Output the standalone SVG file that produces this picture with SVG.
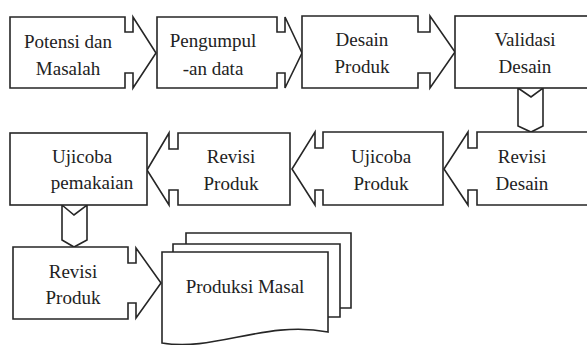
<svg xmlns="http://www.w3.org/2000/svg" width="587" height="345" viewBox="0 0 587 345">
<style>
.s{fill:#fff;stroke:#262626;stroke-width:1.6;stroke-linejoin:miter}
text{font-size:19px;fill:#222;text-anchor:middle}
</style>
<rect x="0" y="0" width="587" height="345" fill="#fff"/>
<g id="connectors">
<path class="s" d="M518,88 L531,97 L543,88 V126 L531,132 L518,126 Z"/>
<path class="s" d="M62,205 L74,215 L87,205 V240 L74,247 L62,240 Z"/>
</g>
<g font-family="Liberation Serif, serif">
<g id="n1">
<path class="s" d="M10,17 H125 V32 H133 V17 L156,53 L133,88 V73 H125 V88 H10 Z"/>
<text x="68" y="48">Potensi dan</text>
<text x="68" y="75">Masalah</text>
</g>
<g id="n2">
<path class="s" d="M157,17 H277 V32 H285 V17 L302,53 L285,88 V73 H277 V88 H157 Z"/>
<text x="213" y="47">Pengumpul</text>
<text x="213" y="75">-an data</text>
</g>
<g id="n3">
<path class="s" d="M302,16 H418 V32 H430 V16 L455,52 L430,88 V73 H418 V88 H302 Z"/>
<text x="362" y="46">Desain</text>
<text x="362" y="73">Produk</text>
</g>
<g id="n4">
<rect class="s" x="455" y="16" width="150" height="72"/>
<text x="525" y="46">Validasi</text>
<text x="525" y="73">Desain</text>
</g>
<g id="n5">
<path class="s" d="M605,132 H477 V148 H468 V132 L444,169 L468,205 V190 H477 V205 H605 Z"/>
<text x="522" y="163">Revisi</text>
<text x="522" y="190">Desain</text>
</g>
<g id="n6">
<path class="s" d="M443,132 H323 V148 H315 V132 L292,169 L315,205 V190 H323 V205 H443 Z"/>
<text x="381" y="163">Ujicoba</text>
<text x="381" y="190">Produk</text>
</g>
<g id="n7">
<path class="s" d="M290,133 H178 V149 H169 V133 L147,170 L169,205 V190 H178 V205 H290 Z"/>
<text x="231" y="163">Revisi</text>
<text x="231" y="190">Produk</text>
</g>
<g id="n8">
<rect class="s" x="10" y="133" width="137" height="72"/>
<text x="82" y="163">Ujicoba</text>
<text x="92" y="189">pemakaian</text>
</g>
<g id="n9">
<path class="s" d="M13,247 H128 V263 H136 V248 L161,283 L136,318 V303 H128 V319 H13 Z"/>
<text x="73" y="278">Revisi</text>
<text x="73" y="304">Produk</text>
</g>
<g id="n10">
<path class="s" d="M186,260 V233 H351 V308 H330 V260 Z"/>
<path class="s" d="M173,270 V244 H340 V317 H320 V270 Z"/>
<path class="s" d="M162,252 H328 V332 C265,320 215,352 162,343 Z"/>
<text x="245" y="293">Produksi Masal</text>
</g>
</g>
</svg>
